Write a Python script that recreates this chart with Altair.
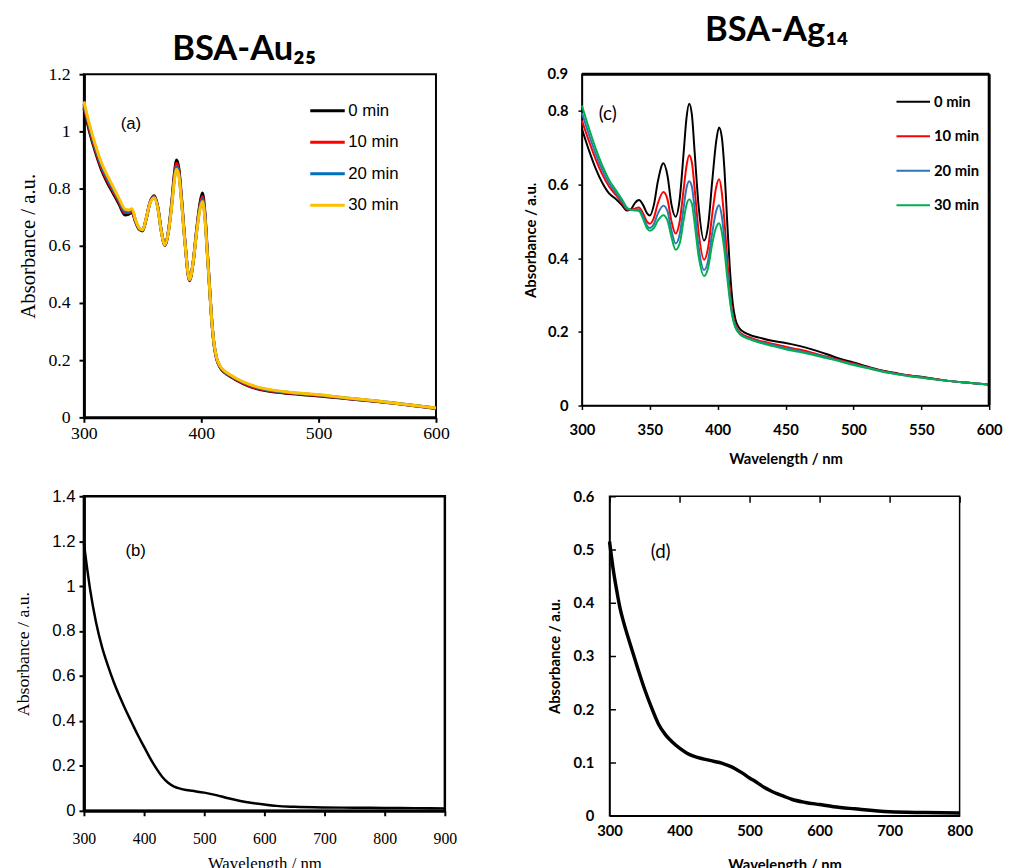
import altair as alt
import pandas as pd

# ---------------- data ----------------
series_names = ["0 min", "10 min", "20 min", "30 min"]

# Panel (a) BSA-Au25
wl_a = [300, 305, 310, 315, 320, 325, 330, 335, 338, 341, 344, 347, 350, 353, 356, 360, 363, 366, 369, 372,
        375, 377, 379, 381, 383, 386, 390, 393, 396, 399, 401, 403, 405, 407, 409, 411, 413, 416, 420, 425,
        430, 440, 450, 460, 475, 500, 525, 550, 575, 600]
a_0 = [1.08, 0.995, 0.925, 0.865, 0.82, 0.783, 0.745, 0.708, 0.71, 0.717, 0.683, 0.658, 0.652, 0.693, 0.748,
       0.775, 0.735, 0.65, 0.602, 0.652, 0.76, 0.85, 0.9, 0.868, 0.775, 0.62, 0.478, 0.54, 0.655, 0.752,
       0.785, 0.72, 0.59, 0.46, 0.335, 0.25, 0.205, 0.175, 0.156, 0.142, 0.13, 0.11, 0.097, 0.09, 0.083,
       0.075, 0.065, 0.055, 0.044, 0.031]
a_10 = [1.088, 1.003, 0.933, 0.873, 0.828, 0.79, 0.752, 0.715, 0.715, 0.721, 0.686, 0.66, 0.654, 0.694, 0.747,
        0.773, 0.733, 0.65, 0.603, 0.65, 0.755, 0.84, 0.888, 0.858, 0.77, 0.618, 0.48, 0.54, 0.652, 0.743,
        0.772, 0.712, 0.586, 0.458, 0.335, 0.252, 0.207, 0.177, 0.158, 0.144, 0.132, 0.112, 0.099, 0.092,
        0.085, 0.076, 0.066, 0.056, 0.044, 0.032]
a_20 = [1.096, 1.011, 0.941, 0.881, 0.836, 0.797, 0.758, 0.721, 0.72, 0.725, 0.688, 0.661, 0.655, 0.694, 0.746,
        0.77, 0.732, 0.649, 0.603, 0.649, 0.75, 0.832, 0.877, 0.85, 0.765, 0.616, 0.481, 0.54, 0.648, 0.737,
        0.763, 0.706, 0.583, 0.456, 0.335, 0.253, 0.208, 0.178, 0.16, 0.146, 0.134, 0.115, 0.102, 0.094,
        0.087, 0.078, 0.067, 0.057, 0.045, 0.033]
a_30 = [1.105, 1.02, 0.95, 0.89, 0.845, 0.805, 0.765, 0.728, 0.725, 0.73, 0.69, 0.663, 0.656, 0.695, 0.745,
        0.768, 0.73, 0.648, 0.603, 0.648, 0.745, 0.825, 0.868, 0.842, 0.76, 0.615, 0.482, 0.54, 0.645, 0.73,
        0.755, 0.70, 0.58, 0.455, 0.335, 0.255, 0.21, 0.18, 0.162, 0.148, 0.136, 0.117, 0.104, 0.096, 0.088,
        0.079, 0.068, 0.057, 0.045, 0.033]

# Panel (c) BSA-Ag14
wl_c = [300, 305, 310, 315, 320, 325, 330, 333, 336, 339, 342, 345, 348, 350, 353, 356, 360, 363, 366, 369,
        372, 375, 377, 379, 381, 383, 386, 390, 393, 396, 399, 401, 403, 405, 407, 409, 411, 413, 416, 420,
        425, 430, 440, 450, 460, 470, 480, 490, 500, 510, 520, 530, 540, 550, 560, 570, 580, 590, 600]
c_0 = [0.752, 0.695, 0.645, 0.605, 0.576, 0.561, 0.542, 0.53, 0.533, 0.55, 0.558, 0.545, 0.522, 0.516, 0.545,
       0.61, 0.658, 0.625, 0.545, 0.513, 0.56, 0.69, 0.78, 0.82, 0.79, 0.69, 0.54, 0.448, 0.49, 0.61, 0.72,
       0.755, 0.73, 0.64, 0.5, 0.37, 0.28, 0.235, 0.21, 0.198, 0.19, 0.185, 0.176, 0.17, 0.162, 0.152, 0.14,
       0.127, 0.117, 0.106, 0.096, 0.089, 0.082, 0.078, 0.072, 0.067, 0.063, 0.06, 0.057]
c_10 = [0.774, 0.72, 0.67, 0.628, 0.595, 0.572, 0.548, 0.533, 0.531, 0.535, 0.538, 0.522, 0.499, 0.494, 0.51,
        0.55, 0.58, 0.56, 0.5, 0.467, 0.5, 0.59, 0.65, 0.68, 0.66, 0.59, 0.47, 0.396, 0.43, 0.52, 0.595, 0.615,
        0.58, 0.5, 0.4, 0.31, 0.25, 0.22, 0.2, 0.19, 0.183, 0.177, 0.168, 0.16, 0.152, 0.143, 0.133, 0.123,
        0.114, 0.104, 0.095, 0.088, 0.082, 0.077, 0.072, 0.067, 0.063, 0.06, 0.057]
c_20 = [0.795, 0.738, 0.685, 0.64, 0.604, 0.578, 0.552, 0.535, 0.531, 0.532, 0.532, 0.514, 0.488, 0.482, 0.493,
        0.522, 0.543, 0.528, 0.475, 0.44, 0.465, 0.54, 0.59, 0.609, 0.594, 0.535, 0.43, 0.368, 0.395, 0.47,
        0.53, 0.544, 0.515, 0.45, 0.37, 0.295, 0.243, 0.215, 0.197, 0.187, 0.18, 0.174, 0.165, 0.156, 0.148,
        0.14, 0.131, 0.121, 0.112, 0.103, 0.094, 0.087, 0.081, 0.076, 0.071, 0.067, 0.063, 0.06, 0.057]
c_30 = [0.815, 0.755, 0.70, 0.652, 0.613, 0.585, 0.557, 0.538, 0.532, 0.53, 0.528, 0.508, 0.481, 0.475, 0.482,
        0.503, 0.517, 0.503, 0.457, 0.423, 0.44, 0.505, 0.545, 0.56, 0.548, 0.495, 0.405, 0.352, 0.375, 0.44,
        0.485, 0.495, 0.472, 0.42, 0.35, 0.285, 0.238, 0.212, 0.195, 0.185, 0.178, 0.172, 0.162, 0.153, 0.146,
        0.138, 0.129, 0.12, 0.11, 0.102, 0.093, 0.086, 0.08, 0.076, 0.071, 0.067, 0.063, 0.06, 0.057]

# Panel (b)
wl_b = [300, 310, 320, 330, 340, 350, 360, 370, 380, 390, 400, 410, 420, 430, 440, 450, 460, 470,
        480, 500, 520, 540, 560, 580, 600, 620, 650, 700, 750, 800, 850, 900]
ab_b = [1.19, 0.99, 0.84, 0.73, 0.645, 0.57, 0.505, 0.445, 0.39, 0.335, 0.285, 0.235, 0.19, 0.152,
        0.125, 0.108, 0.099, 0.093, 0.089, 0.081, 0.07, 0.056, 0.044, 0.035, 0.028, 0.022, 0.018, 0.015, 0.014,
        0.013, 0.012, 0.011]

# Panel (d)
wl_d = [300, 305, 310, 315, 320, 330, 340, 350, 360, 370, 380, 390, 400, 410, 420, 430, 440, 450, 460, 470,
        480, 490, 500, 510, 520, 530, 540, 550, 560, 580, 600, 620, 650, 700, 750, 800]
ab_d = [0.515, 0.465, 0.425, 0.39, 0.364, 0.32, 0.278, 0.238, 0.203, 0.172, 0.152, 0.138, 0.127, 0.118, 0.112,
        0.108, 0.105, 0.102, 0.099, 0.094, 0.088, 0.08, 0.071, 0.063, 0.054, 0.047, 0.041, 0.036, 0.031, 0.025,
        0.021, 0.017, 0.013, 0.0075, 0.006, 0.005]

colors_a = ["#000000", "#FF0000", "#0070C0", "#FFC000"]
colors_c = ["#000000", "#FF0000", "#2E75B6", "#00B050"]

# plot frame (domain corners) for panel c
frame_c_x1 = [300, 600]
frame_c_x2 = [600, 600]
frame_c_y1 = [0.9, 0.0]
frame_c_y2 = [0.9, 0.9]

# top tick label of panel c's y axis
top_label_c = ["0.9"]
top_value_c = [0.9]


def tidy(wl, series, key):
    rows = []
    for name, vals in series:
        for w, v in zip(wl, vals):
            rows.append({"wl": w, "A": v, key: name})
    return pd.DataFrame(rows)


df_a = tidy(wl_a, zip(series_names, [a_0, a_10, a_20, a_30]), "time_a")
df_c = tidy(wl_c, zip(series_names, [c_0, c_10, c_20, c_30]), "time_c")
df_b = pd.DataFrame({"wl": wl_b, "A": ab_b})
df_d = pd.DataFrame({"wl": wl_d, "A": ab_d})
df_frame_c = pd.DataFrame({"x1": frame_c_x1, "x2": frame_c_x2, "y1": frame_c_y1, "y2": frame_c_y2})
df_top_c = pd.DataFrame({"wl": [300], "A": top_value_c, "t": top_label_c})

SERIF = "Liberation Serif"
SANS = "Liberation Sans"
CAL = "Lato"

# ---------------- panel a ----------------
ax_common_a = dict(domainColor="black", domainWidth=3, tickColor="black", tickWidth=2, tickSize=5,
                   labelColor="black", grid=False, labelFlush=False, labelOverlap=False)
lines_a = alt.Chart(df_a).mark_line(strokeWidth=3, interpolate="monotone").encode(
    x=alt.X("wl:Q", scale=alt.Scale(domain=[300, 600], nice=False, zero=False),
            axis=alt.Axis(values=[300, 400, 500, 600], title=None, labelFont=SERIF, labelFontSize=18,
                          labelPadding=2, **ax_common_a)),
    y=alt.Y("A:Q", scale=alt.Scale(domain=[0, 1.2], nice=False),
            axis=alt.Axis(values=[0, 0.2, 0.4, 0.6, 0.8, 1.0, 1.2], format="~g", title="Absorbance / a.u.",
                          titleFont=SERIF, titleFontSize=21, titleFontWeight="normal", titleColor="black",
                          labelFont=SERIF, labelFontSize=18, labelPadding=9, titlePadding=10, **ax_common_a)),
    color=alt.Color("time_a:N", scale=alt.Scale(domain=series_names, range=colors_a),
                    legend=alt.Legend(orient="none", legendX=228, legendY=18, title=None, symbolType="stroke",
                                      symbolSize=1225, symbolStrokeWidth=3, labelFont=SANS, labelFontSize=17,
                                      labelFontWeight="normal", labelColor="black", rowPadding=5, labelOffset=2)),
)
text_a = alt.Chart(pd.DataFrame({"wl": [340], "A": [1.024], "t": ["(a)"]})).mark_text(
    font=SANS, fontSize=17, color="black").encode(x="wl:Q", y="A:Q", text="t:N")
chart_a = alt.layer(lines_a, text_a).properties(
    width=357, height=348,
    title=alt.TitleParams("BSA-Au₂₅", font=CAL, fontSize=35, fontWeight="bold", color="black",
                          anchor="middle", dx=-16, offset=-2),
    view=alt.ViewBackground(stroke="black", strokeWidth=2),
)

# ---------------- panel c ----------------
ax_common_c = dict(domainColor="black", domainWidth=1.5, tickColor="black", tickWidth=1.5, tickSize=4,
                   grid=False, labelColor="black", labelFont=CAL, labelFontSize=15,
                   labelFontWeight="bold", labelFlush=False, labelOverlap=False)
lines_c = alt.Chart(df_c).mark_line(strokeWidth=2, interpolate="monotone").encode(
    x=alt.X("wl:Q", scale=alt.Scale(domain=[300, 600], nice=False, zero=False),
            axis=alt.Axis(values=[300, 350, 400, 450, 500, 550, 600], title="Wavelength / nm",
                          titleFont=CAL, titleFontSize=15, titleFontWeight="bold", titleColor="black",
                          labelPadding=13, titlePadding=15, **ax_common_c)),
    y=alt.Y("A:Q", scale=alt.Scale(domain=[0, 0.9], nice=False),
            axis=alt.Axis(values=[0, 0.1, 0.2, 0.3, 0.4, 0.5, 0.6, 0.7, 0.8, 0.9], format="~g",
                          title="Absorbance / a.u.", titleFont=CAL, titleFontSize=15, titleFontWeight="bold",
                          titleColor="black", labelPadding=10, titlePadding=9, **ax_common_c)),
    color=alt.Color("time_c:N", scale=alt.Scale(domain=series_names, range=colors_c),
                    legend=alt.Legend(orient="none", legendX=318, legendY=10, title=None, symbolType="stroke",
                                      symbolSize=1156, symbolStrokeWidth=2, labelFont=CAL, labelFontSize=15,
                                      labelFontWeight="bold", labelColor="black", rowPadding=9, labelOffset=3)),
)
frame_c = alt.Chart(df_frame_c).mark_rule(color="black", strokeWidth=3).encode(
    x="x1:Q", x2="x2:Q", y="y1:Q", y2="y2:Q")
top_lab_c = alt.Chart(df_top_c).mark_text(
    font=CAL, fontSize=15, fontWeight="bold", color="black", align="right", baseline="middle", dx=-14
).encode(x="wl:Q", y="A:Q", text="t:N")
text_c = alt.Chart(pd.DataFrame({"wl": [319], "A": [0.793], "t": ["(c)"]})).mark_text(
    font=CAL, fontSize=19, color="black").encode(x="wl:Q", y="A:Q", text="t:N")
chart_c = alt.layer(lines_c, frame_c, top_lab_c, text_c).properties(
    width=413, height=336,
    title=alt.TitleParams("BSA-Ag₁₄", font=CAL, fontSize=35, fontWeight="bold", color="black",
                          anchor="middle", dx=-9, offset=20),
    view=alt.ViewBackground(stroke="black", strokeWidth=1.5),
)

# ---------------- panel b ----------------
ax_common_b = dict(domainColor="black", domainWidth=3, tickColor="black", tickWidth=2, tickSize=5,
                   labelColor="black", grid=False, labelFlush=False, labelOverlap=False)
line_b = alt.Chart(df_b).mark_line(strokeWidth=2.5, color="black", interpolate="monotone").encode(
    x=alt.X("wl:Q", scale=alt.Scale(domain=[300, 900], nice=False, zero=False),
            axis=alt.Axis(values=[300, 400, 500, 600, 700, 800, 900], title="Wavelength / nm",
                          titleFont=SERIF, titleFontSize=17, titleFontWeight="normal", titleColor="black",
                          labelFont=SERIF, labelFontSize=16, labelPadding=15, titlePadding=9, **ax_common_b)),
    y=alt.Y("A:Q", scale=alt.Scale(domain=[0, 1.4], nice=False),
            axis=alt.Axis(values=[0, 0.2, 0.4, 0.6, 0.8, 1.0, 1.2, 1.4], format="~g",
                          title="Absorbance / a.u.", titleFont=SERIF, titleFontSize=18, titleFontWeight="normal",
                          titleColor="black", labelFont=SANS, labelFontSize=17, labelPadding=4, titlePadding=20,
                          **ax_common_b)),
)
text_b = alt.Chart(pd.DataFrame({"wl": [386], "A": [1.158], "t": ["(b)"]})).mark_text(
    font=SANS, fontSize=17, color="black").encode(x="wl:Q", y="A:Q", text="t:N")
chart_b = alt.layer(line_b, text_b).properties(
    width=366, height=319,
    view=alt.ViewBackground(stroke="black", strokeWidth=2.5),
)

# ---------------- panel d ----------------
ax_common_d = dict(domainColor="black", domainWidth=1.5, ticks=False, grid=True, gridColor="black",
                   gridWidth=1.5, gridDash=[6, 2000], labelColor="black", labelFont=CAL, labelFontSize=15,
                   labelFontWeight="bold", labelFlush=False, labelOverlap=False)
line_d = alt.Chart(df_d).mark_line(strokeWidth=3.5, color="black", interpolate="monotone").encode(
    x=alt.X("wl:Q", scale=alt.Scale(domain=[300, 800], nice=False, zero=False),
            axis=alt.Axis(values=[300, 400, 500, 600, 700, 800], title="Wavelength / nm",
                          titleFont=CAL, titleFontSize=15, titleFontWeight="bold", titleColor="black",
                          labelPadding=8, titlePadding=19, **ax_common_d)),
    y=alt.Y("A:Q", scale=alt.Scale(domain=[0, 0.6], nice=False),
            axis=alt.Axis(values=[0, 0.1, 0.2, 0.3, 0.4, 0.5, 0.6], format="~g",
                          title="Absorbance / a.u.", titleFont=CAL, titleFontSize=15, titleFontWeight="bold",
                          titleColor="black", labelPadding=16, titlePadding=11, **ax_common_d)),
)
text_d = alt.Chart(pd.DataFrame({"wl": [373], "A": [0.496], "t": ["(d)"]})).mark_text(
    font=CAL, fontSize=19, color="black").encode(x="wl:Q", y="A:Q", text="t:N")
chart_d = alt.layer(line_d, text_d).properties(
    width=355, height=324,
    view=alt.ViewBackground(stroke="black", strokeWidth=1.5),
)

top = alt.hconcat(chart_a, chart_c, spacing=73).resolve_scale(color="independent")
bottom = alt.hconcat(chart_b, chart_d, spacing=89)
chart = alt.vconcat(top, bottom, spacing=18).resolve_scale(color="independent").properties(
    padding={"left": 5, "top": -2, "right": 0, "bottom": 0}
).configure(background="white").configure_view(stroke="black", strokeWidth=1.5)

chart.save("out.html", embed_options={"renderer": "svg", "actions": False})
